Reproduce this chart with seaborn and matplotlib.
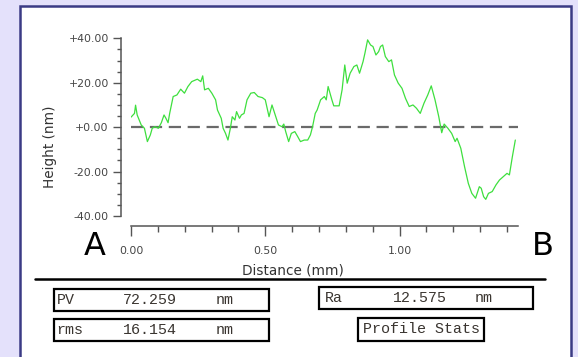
import numpy as np
import pandas as pd
import matplotlib
matplotlib.use("Agg")
import matplotlib.pyplot as plt
import seaborn as sns
from matplotlib.patches import Rectangle
from matplotlib.lines import Line2D
from matplotlib.ticker import FixedLocator

# ---- data ----
distance_mm = [0.000, 0.013, 0.017, 0.023, 0.038, 0.050, 0.061, 0.072, 0.079, 0.089,
               0.102, 0.113, 0.123, 0.130, 0.138, 0.144, 0.157, 0.171, 0.185, 0.199,
               0.212, 0.226, 0.247, 0.260, 0.267, 0.274, 0.288, 0.301, 0.315, 0.322,
               0.336, 0.343, 0.352, 0.361, 0.370, 0.377, 0.387, 0.393, 0.404, 0.411,
               0.421, 0.432, 0.446, 0.459, 0.473, 0.489, 0.500, 0.514, 0.525, 0.539,
               0.549, 0.562, 0.569, 0.576, 0.587, 0.597, 0.610, 0.621, 0.631, 0.645,
               0.658, 0.668, 0.676, 0.686, 0.693, 0.706, 0.720, 0.727, 0.734, 0.748,
               0.755, 0.775, 0.786, 0.796, 0.805, 0.816, 0.830, 0.841, 0.851, 0.864,
               0.871, 0.881, 0.892, 0.901, 0.912, 0.922, 0.929, 0.937, 0.947, 0.960,
               0.970, 0.981, 0.995, 1.009, 1.022, 1.036, 1.050, 1.063, 1.077, 1.091,
               1.105, 1.118, 1.132, 1.146, 1.157, 1.166, 1.180, 1.194, 1.207, 1.214,
               1.228, 1.242, 1.256, 1.269, 1.283, 1.297, 1.304, 1.313, 1.321, 1.331,
               1.345, 1.359, 1.372, 1.386, 1.400, 1.409, 1.420, 1.431]
height_nm = [4.5, 6.2, 9.9, 5.5, 1.0, -0.5, -6.5, -3.5, -0.5, 0.2,
             -0.5, 2.0, 5.5, 4.0, 2.0, 6.2, 13.8, 14.5, 17.1, 15.3,
             18.3, 20.5, 21.6, 20.5, 23.1, 16.8, 17.5, 15.3, 12.3, 7.7,
             4.0, -0.5, -2.8, -5.8, -0.5, 4.7, 3.2, 7.0, 4.0, 5.5,
             6.2, 12.3, 15.3, 15.6, 13.8, 13.3, 12.3, 4.7, 10.0, 4.7,
             1.0, 0.2, 1.4, -2.0, -6.5, -2.8, -2.0, -4.3, -6.5, -5.8,
             -5.8, -3.5, 0.2, 6.2, 7.7, 12.3, 13.8, 12.3, 18.3, 12.3,
             9.6, 9.6, 16.8, 28.0, 19.8, 24.3, 27.3, 28.0, 24.3, 29.5,
             33.3, 39.3, 37.0, 36.3, 32.5, 34.0, 36.3, 37.0, 31.8, 29.5,
             30.3, 23.5, 19.8, 17.5, 13.0, 9.3, 10.0, 8.5, 6.2, 10.8,
             14.5, 18.6, 12.3, 4.7, -2.5, 1.4, -0.5, -2.8, -6.5, -5.0,
             -9.5, -17.8, -25.3, -29.8, -32.0, -26.8, -27.5, -31.3, -32.5, -29.8,
             -29.0, -26.0, -23.8, -22.3, -20.8, -21.5, -13.3, -5.8]

y_ticks = [40, 20, 0, -20, -40]
y_tick_labels = ["+40.00", "+20.00", "+0.00", "-20.00", "-40.00"]
x_ticks = [0.0, 0.5, 1.0]
x_tick_labels = ["0.00", "0.50", "1.00"]

stat_names = ["PV", "rms", "Ra"]
stat_values = ["72.259", "16.154", "12.575"]
stat_unit = "nm"

# ---- figure ----
W, H = 578, 357
sns.set_style("white")
plt.rcParams['font.family'] = ['DejaVu Sans']
fig = plt.figure(figsize=(W / 100, H / 100), dpi=100)
fig.patch.set_facecolor("#E4E1FB")

def fx(px):
    return px / W

def fy(py):
    return 1 - py / H

# white panel with navy border
fig.patches.append(Rectangle((fx(19.5), fy(400)), fx(571 - 19.5), (400 - 6.5) / H,
                             transform=fig.transFigure, facecolor="white",
                             edgecolor="#3B3B85", linewidth=1.8, zorder=-10))

# axes: x 0 -> px 131, x 1.441 -> px 518 ; y 41 -> py 36.1, y -44.5 -> py 226
x_min, x_max = 0.0, 1.441
y_min, y_max = -44.5, 41.0
ax_left, ax_right = 131, 518
ax_top, ax_bot = 36.1, 226
ax = fig.add_axes([fx(ax_left), fy(ax_bot), fx(ax_right - ax_left), (ax_bot - ax_top) / H])
ax.set_zorder(5)
ax.patch.set_alpha(0)

df = pd.DataFrame({"Distance (mm)": distance_mm, "Height (nm)": height_nm})
sns.lineplot(data=df, x="Distance (mm)", y="Height (nm)", ax=ax,
             color="#3EDF3E", linewidth=0.9, zorder=3)
ax.axhline(0, xmin=0, xmax=1, color="#6a6a6a", linewidth=1.6,
           linestyle=(0, (5.5, 3.0)), zorder=2)

ax.set_xlim(x_min, x_max)
ax.set_ylim(y_min, y_max)

for s in ["top", "right"]:
    ax.spines[s].set_visible(False)
ax.spines["left"].set_position(("outward", 7))
ax.spines["left"].set_bounds(-40, 40)
ax.spines["bottom"].set_bounds(0, x_max)
for s in ["left", "bottom"]:
    ax.spines[s].set_color("#555555")
    ax.spines[s].set_linewidth(1.1)

ax.yaxis.set_major_locator(FixedLocator(y_ticks))
ax.set_yticklabels(y_tick_labels)
ax.yaxis.set_minor_locator(FixedLocator([v for v in range(-40, 41, 5) if v % 20 != 0]))
ax.xaxis.set_major_locator(FixedLocator(x_ticks))
ax.set_xticklabels(x_tick_labels)
ax.xaxis.set_minor_locator(FixedLocator([round(0.1 * i, 1) for i in range(1, 15) if i % 5 != 0]))

ax.tick_params(axis="both", which="both", bottom=True, left=True, top=False, right=False)
ax.tick_params(axis="y", which="major", direction="out", length=6, width=1.0,
               color="#555555", labelcolor="#444444", labelsize=7.8, pad=3)
ax.tick_params(axis="y", which="minor", direction="out", length=3, width=1.0, color="#555555")
ax.tick_params(axis="x", which="major", direction="out", length=7.5, width=1.0,
               color="#555555", labelcolor="#444444", labelsize=7.8, pad=7)
ax.tick_params(axis="x", which="minor", direction="out", length=4, width=1.0, color="#555555")

ax.set_xlabel("")
ax.set_ylabel("")
fig.text(fx(50), fy(147), "Height (nm)", rotation=90, ha="center", va="center",
         fontsize=9.8, color="#333333")
fig.text(fx(292.5), fy(270), "Distance (mm)", ha="center", va="center",
         fontsize=9.8, color="#333333")

# A / B labels
fig.text(fx(95), fy(246.5), "A", ha="center", va="center", fontsize=23, color="black")
fig.text(fx(542.5), fy(246.5), "B", ha="center", va="center", fontsize=23, color="black")

# separator line
fig.lines.append(Line2D([fx(35), fx(545)], [fy(279.3), fy(279.3)],
                        transform=fig.transFigure, color="black", linewidth=1.8))

# stat boxes
def box(x0, y0, x1, y1):
    fig.patches.append(Rectangle((fx(x0), fy(y1)), fx(x1 - x0), (y1 - y0) / H,
                                 transform=fig.transFigure, facecolor="white",
                                 edgecolor="black", linewidth=1.6, zorder=1))

mono = "Liberation Mono"
txt_kw = dict(fontsize=10.8, family=mono, va="center", color="#3a3530")

box(54, 289, 269, 310.7)
fig.text(fx(56.5), fy(300), stat_names[0], ha="left", **txt_kw)
fig.text(fx(122.7), fy(300), stat_values[0], ha="left", **txt_kw)
fig.text(fx(215.5), fy(300), stat_unit, ha="left", **txt_kw)

box(54, 319, 269, 340.7)
fig.text(fx(56.5), fy(330), stat_names[1], ha="left", **txt_kw)
fig.text(fx(122.7), fy(330), stat_values[1], ha="left", **txt_kw)
fig.text(fx(215.5), fy(330), stat_unit, ha="left", **txt_kw)

box(319, 286.7, 532.7, 309)
fig.text(fx(324.5), fy(298), stat_names[2], ha="left", **txt_kw)
fig.text(fx(392.7), fy(298), stat_values[2], ha="left", **txt_kw)
fig.text(fx(475), fy(298), stat_unit, ha="left", **txt_kw)

box(358.3, 317.7, 484.3, 340.7)
fig.text(fx(421.3), fy(329.2), "Profile Stats", ha="center", **txt_kw)

fig.savefig("out.png", dpi=100, facecolor=fig.get_facecolor())
